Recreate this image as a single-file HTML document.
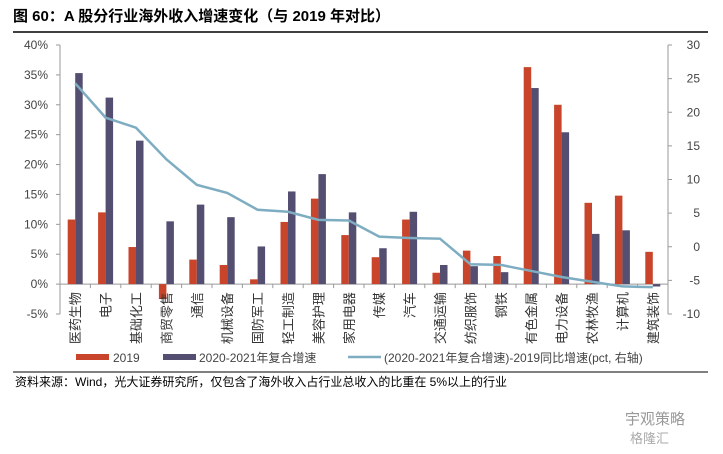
<!DOCTYPE html>
<html><head><meta charset="utf-8"><style>
body{margin:0;background:#fff;width:723px;height:449px;overflow:hidden;font-family:"Liberation Sans","Noto Sans CJK SC",sans-serif}
svg text{font-family:"Liberation Sans","Noto Sans CJK SC",sans-serif}
</style></head><body>
<svg id="c" width="723" height="449">
<text x="13" y="21" font-size="15" font-weight="bold" fill="#000">图 60：A 股分行业海外收入增速变化（与 2019 年对比）</text>
<line x1="13" y1="32" x2="708" y2="32" stroke="#000" stroke-width="1.5"/>
<g id="plot"></g>
<g>
<rect x="76" y="354" width="33" height="6" fill="#c8442a"/>
<text x="113" y="362" font-size="12" fill="#444">2019</text>
<rect x="163" y="354" width="33" height="6" fill="#544e70"/>
<text x="199" y="362" font-size="12" fill="#444">2020-2021年复合增速</text>
<line x1="348" y1="357" x2="381" y2="357" stroke="#7eadc2" stroke-width="2.5"/>
<text x="384" y="362" font-size="12" fill="#444">(2020-2021年复合增速)-2019同比增速(pct, 右轴)</text>
</g>
<line x1="13" y1="372" x2="708" y2="372" stroke="#000" stroke-width="1"/>
<text x="15" y="386" font-size="12" fill="#000">资料来源：Wind，光大证券研究所，仅包含了海外收入占行业总收入的比重在 5%以上的行业</text>
<text x="625" y="424" font-size="15" fill="#999">宇观策略</text>
<text x="630" y="443" font-size="13" fill="#aaa">格隆汇</text>
</svg>
<script>
const categories=["医药生物","电子","基础化工","商贸零售","通信","机械设备","国防军工","轻工制造","美容护理","家用电器","传媒","汽车","交通运输","纺织服饰","钢铁","有色金属","电力设备","农林牧渔","计算机","建筑装饰"];
const values2019=[10.8,12.0,6.2,-2.5,4.1,3.2,0.8,10.4,14.3,8.2,4.5,10.8,1.9,5.6,4.7,36.3,30.0,13.6,14.8,5.4];
const valuesGrowth=[35.3,31.2,24.0,10.5,13.3,11.2,6.3,15.5,18.4,12.0,6.0,12.1,3.2,3.0,2.0,32.8,25.4,8.4,9.0,-0.4];
const valuesDiff=[24.3,19.2,17.7,13.0,9.2,8.0,5.5,5.2,4.0,3.9,1.5,1.3,1.2,-2.6,-2.7,-3.6,-4.5,-5.2,-5.9,-6.0];
const leftTicks=["-5%","0%","5%","10%","15%","20%","25%","30%","35%","40%"];
const leftTickVals=[-5,0,5,10,15,20,25,30,35,40];
const rightTickVals=[-10,-5,0,5,10,15,20,25,30];
const NS="http://www.w3.org/2000/svg";
const g=document.getElementById('plot');
const X0=60,X1=668,YT=45,YB=314;
const yL=v=>YB-(v+5)/45*(YB-YT);
const yR=v=>YB-(v+10)/40*(YB-YT);
const step=(X1-X0)/categories.length;
const xC=i=>X0+step*(i+0.5);
function mk(t,a){const e=document.createElementNS(NS,t);for(const k in a)e.setAttribute(k,a[k]);g.appendChild(e);return e;}
let e;
e=mk('line',{x1:X0,y1:YT,x2:X0,y2:YB,stroke:'#999'});


e=mk('line',{x1:X1,y1:YT,x2:X1,y2:YB,stroke:'#999'});


e=mk('line',{x1:X0,y1:yL(0),x2:X1,y2:yL(0),stroke:'#999'});


leftTickVals.forEach((v,i)=>{
 e=mk('line',{x1:X0-4,y1:yL(v),x2:X0,y2:yL(v),stroke:'#999'});
 
 
 e=mk('text',{x:X0-12,y:yL(v)+4,'font-size':12,fill:'#444','text-anchor':'end'});e.textContent=leftTicks[i];
 
 
});
rightTickVals.forEach(v=>{
 e=mk('line',{x1:X1,y1:yR(v),x2:X1+4,y2:yR(v),stroke:'#999'});
 
 
 e=mk('text',{x:X1+32,y:yR(v)+4,'font-size':12,fill:'#444','text-anchor':'end'});e.textContent=String(v);
 
 
});
categories.forEach((c,i)=>{
 const cx=xC(i);
 e=mk('line',{x1:X0+step*(i+1),y1:yL(0),x2:X0+step*(i+1),y2:yL(0)+4,stroke:'#999'});
 
 
 let a=values2019[i];
 e=mk('rect',{x:cx-7.5,y:Math.min(yL(a),yL(0)),width:7.5,height:Math.abs(yL(a)-yL(0)),fill:'#c8442a'});
 
 
 let b=valuesGrowth[i];
 e=mk('rect',{x:cx,y:Math.min(yL(b),yL(0)),width:7.5,height:Math.abs(yL(b)-yL(0)),fill:'#544e70'});
 
 
 e=mk('text',{x:0,y:0,'font-size':13,fill:'#333',transform:`translate(${cx+5},${yL(0)+8}) rotate(-90)`,'text-anchor':'end'});e.textContent=c;
 
 
});
e=mk('polyline',{points:valuesDiff.map((v,i)=>xC(i)+','+yR(v)).join(' '),fill:'none',stroke:'#7eadc2','stroke-width':2.5});


</script>
</body></html>
